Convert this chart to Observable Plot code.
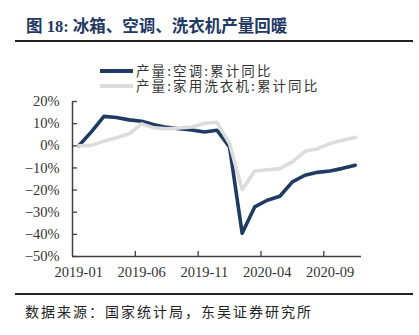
<!DOCTYPE html>
<html>
<head>
<meta charset="utf-8">
<script src="https://cdn.jsdelivr.net/npm/d3@7"></script>
<script src="https://cdn.jsdelivr.net/npm/@observablehq/plot@0.6"></script>
<style>
  html, body { margin: 0; padding: 0; background: #fff; }
  #wrap { position: relative; width: 419px; height: 335px; overflow: hidden; }
  #title { position: absolute; left: 26px; top: 16px; font: bold 16.5px "Liberation Serif", "Noto Sans CJK SC", sans-serif; color: #1f3864; white-space: nowrap; line-height: 22px; }
  .rule { position: absolute; left: 15px; width: 398px; height: 2px; background: #222; }
  #chart { position: absolute; left: 0; top: 50px; }
  #chart svg { font-family: "Liberation Serif", serif !important; font-size: 14.5px !important; }
  #chart svg text { font-family: "Liberation Serif", serif !important; fill: #333; }
  .sw { position: absolute; left: 100px; width: 33px; height: 4px; }
  #legtext { position: absolute; left: 136px; top: 63px; white-space: pre; font: 13.5px/14.5px "Noto Sans CJK SC", sans-serif; color: #333; letter-spacing: 2.1px; }
  #source { position: absolute; left: 25px; top: 302px; font: 14px "Noto Sans CJK SC", sans-serif; color: #222; letter-spacing: 2px; white-space: nowrap; line-height: 18px; }
</style>
</head>
<body>
<div id="wrap">
  <div id="title">图 18: 冰箱、空调、洗衣机产量回暖</div>
  <div class="rule" style="top:40px"></div>
  <div id="chart"></div>
  <div class="sw" id="sw0" style="top:69px"></div>
  <div class="sw" id="sw1" style="top:83.5px"></div>
  <div id="legtext"></div>
  <div class="rule" style="top:293px"></div>
  <div id="source">数据来源：国家统计局，东吴证券研究所</div>
</div>
<script>
const months = ["2019-01","2019-02","2019-03","2019-04","2019-05","2019-06","2019-07","2019-08","2019-09","2019-10","2019-11","2019-12",
                "2020-01","2020-02","2020-03","2020-04","2020-05","2020-06","2020-07","2020-08","2020-09","2020-10","2020-11"];
const seriesNames = ["产量:空调:累计同比", "产量:家用洗衣机:累计同比"];
const acYoY = [0, 6.3, 13.3, 12.8, 11.7, 11.1, 9.5, 8.3, 7.7, 7.1, 6.2, 7.0, -0.6, -39.5, -27.6, -24.6, -22.8, -16.3, -13.3, -12.0, -11.4, -10.2, -8.8];
const washerYoY = [0, 0.2, 2.1, 3.6, 5.4, 9.9, 8.1, 7.7, 8.0, 8.5, 10.2, 10.6, 1.0, -19.8, -11.4, -10.8, -10.3, -7.3, -2.5, -1.3, 1.0, 2.5, 3.8];
const yTicks = [20, 10, 0, -10, -20, -30, -40, -50];
const xLabelIdx = [0, 5, 10, 15, 20];
const xTickIdx = [4.5, 9.5, 14.5, 19.5];
const colors = ["#1f3a63", "#dcdcdc"];

const acRows = months.map((m, i) => ({i, month: m, v: acYoY[i]}));
const washerRows = months.map((m, i) => ({i, month: m, v: washerYoY[i]}));

document.getElementById("sw0").style.background = colors[0];
document.getElementById("sw1").style.background = colors[1];
document.getElementById("legtext").textContent = seriesNames.join("\n");

const axisColor = "#404040";
const chart = Plot.plot({
  width: 419,
  height: 240,
  marginTop: 51,
  marginBottom: 34,
  marginLeft: 72,
  marginRight: 58,
  style: {fontFamily: "Liberation Serif, serif", fontSize: "14.5px", color: "#333", background: "transparent", overflow: "visible"},
  x: {type: "linear", domain: [-0.5, months.length - 0.5]},
  y: {domain: [-50, 20]},
  marks: [
    Plot.axisX({ticks: xTickIdx, tickSize: -5, tickFormat: () => "", stroke: axisColor, strokeWidth: 1.3, label: null}),
    Plot.axisX({ticks: xLabelIdx, tickSize: 0, tickPadding: 10, tickFormat: i => months[i], label: null}),
    Plot.axisY({ticks: yTicks, tickSize: -5, tickFormat: () => "", stroke: axisColor, strokeWidth: 1.3, label: null}),
    Plot.axisY({ticks: yTicks, tickSize: 0, tickPadding: 13, tickFormat: d => (d < 0 ? "\u2212" : "") + Math.abs(d) + "%", label: null}),
    Plot.ruleY([-50], {stroke: axisColor, strokeWidth: 1.5}),
    Plot.ruleX([-0.5], {stroke: axisColor, strokeWidth: 1.5}),
    Plot.line(acRows, {x: "i", y: "v", stroke: colors[0], strokeWidth: 3.6, strokeLinejoin: "round", strokeLinecap: "round"}),
    Plot.line(washerRows, {x: "i", y: "v", stroke: colors[1], strokeWidth: 3.6, strokeLinejoin: "round", strokeLinecap: "round"})
  ]
});
document.getElementById("chart").appendChild(chart);
</script>
</body>
</html>
